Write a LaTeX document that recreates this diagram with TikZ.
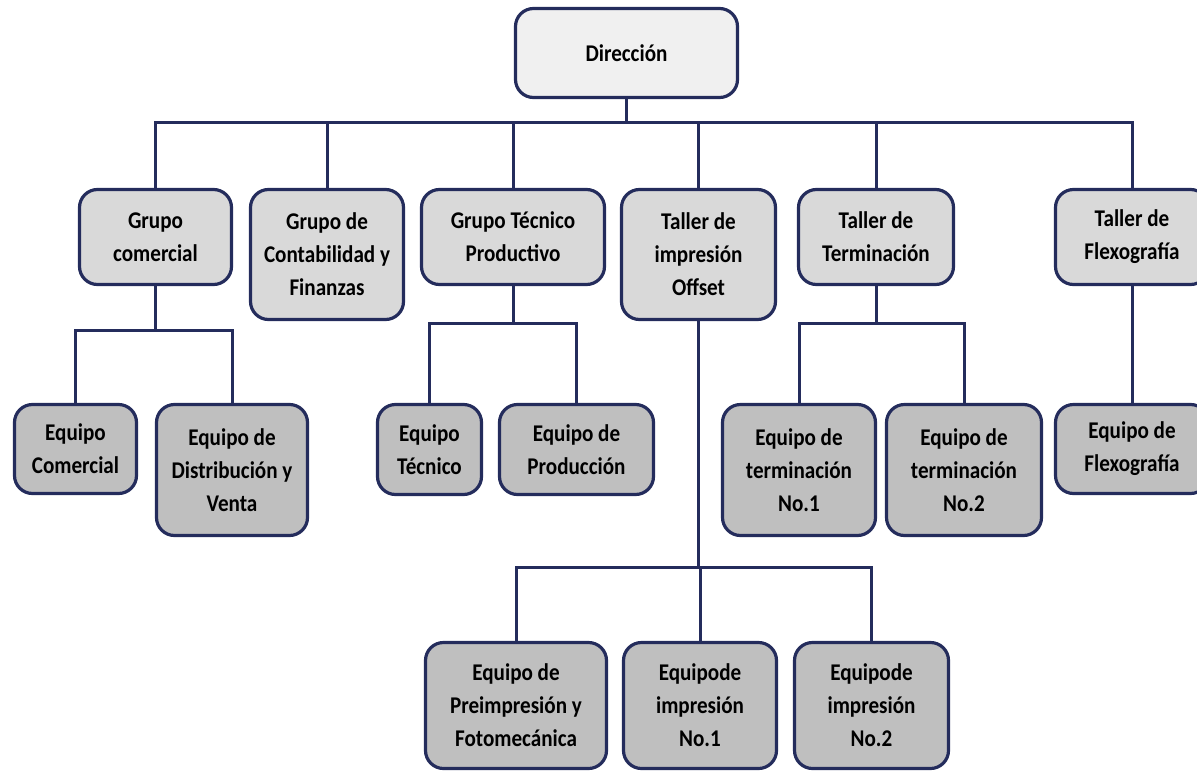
\documentclass[tikz,border=0pt]{standalone}
\usepackage{fontspec}
\setmainfont{Carlito}[FakeStretch=0.88]
\usetikzlibrary{backgrounds}
\definecolor{navy}{RGB}{36,44,92}
\definecolor{topfill}{RGB}{240,240,240}
\definecolor{midfill}{RGB}{217,217,217}
\definecolor{lowfill}{RGB}{191,191,191}
\begin{document}
\begin{tikzpicture}[x=1pt,y=-1pt,
  box/.style={draw=navy, line width=3.2pt, rounded corners=18pt, align=center,
    inner sep=0pt, text=black, font=\fontsize{24}{33}\selectfont\bfseries},
  toplevel/.style={box, fill=topfill},
  group/.style={box, fill=midfill},
  team/.style={box, fill=lowfill},
  conn/.style={draw=navy, line width=3pt, line join=miter}]
\useasboundingbox (0,0) rectangle (1197,774);
\clip (0,0) rectangle (1197,774);

% bus heights
\coordinate (busA) at (0,122);
\coordinate (busB) at (0,330);
\coordinate (busC) at (0,323);
\coordinate (busD) at (0,567);

% head
\node[toplevel, minimum width=222, minimum height=89] (dir) at (626.5,53) {Dirección};

% second level
\node[group, minimum width=152, minimum height=95] (gc) at (155.5,237) {Grupo\\comercial};
\node[group, minimum width=153, minimum height=130] (gcf) at (327,254.5) {Grupo de\\Contabilidad y\\Finanzas};
\node[group, minimum width=183, minimum height=95] (gtp) at (513,237) {Grupo Técnico\\Productivo};
\node[group, minimum width=154, minimum height=130] (too) at (698.5,254.5) {Taller de\\impresión\\Offset};
\node[group, minimum width=155, minimum height=95] (gtt) at (876,237) {Taller de\\Terminación};
\node[group, minimum width=153, minimum height=95] (gtf) at (1132,237) {Taller de\\Flexografía};

% third level
\node[team, minimum width=122, minimum height=89] (ec) at (75.5,449) {Equipo\\Comercial};
\node[team, minimum width=151, minimum height=131] (edv) at (232,470) {Equipo de\\Distribución y\\Venta};
\node[team, minimum width=104, minimum height=90] (et) at (429.5,449.5) {Equipo\\Técnico};
\node[team, minimum width=154, minimum height=90] (ep) at (576.5,449.5) {Equipo de\\Producción};
\node[team, minimum width=153, minimum height=131] (etn1) at (799,470) {Equipo de\\terminación\\No.1};
\node[team, minimum width=155, minimum height=131] (etn2) at (964,470) {Equipo de\\terminación\\No.2};
\node[team, minimum width=153, minimum height=89] (ef) at (1132,449) {Equipo de\\Flexografía};

% fourth level
\node[team, minimum width=181, minimum height=126] (epf) at (516,705.5) {Equipo de\\Preimpresión y\\Fotomecánica};
\node[team, minimum width=153, minimum height=126] (ei1) at (700,705.5) {Equipode\\impresión\\No.1};
\node[team, minimum width=154, minimum height=126] (ei2) at (871.5,705.5) {Equipode\\impresión\\No.2};

\begin{scope}[on background layer]
  \draw[conn] (dir.south) -- (dir.south |- busA);
  \foreach \c in {gc,gcf,gtp,too,gtt,gtf}
    \draw[conn] (dir.south |- busA) -| (\c.north);

  \draw[conn] (gc.south) -- (gc.south |- busB);
  \foreach \c in {ec,edv}
    \draw[conn] (gc.south |- busB) -| (\c.north);

  \draw[conn] (gtp.south) -- (gtp.south |- busC);
  \foreach \c in {et,ep}
    \draw[conn] (gtp.south |- busC) -| (\c.north);

  \draw[conn] (gtt.south) -- (gtt.south |- busC);
  \foreach \c in {etn1,etn2}
    \draw[conn] (gtt.south |- busC) -| (\c.north);

  \draw[conn] (gtf.south) -- (ef.north);

  \draw[conn] (too.south) -- (too.south |- busD);
  \foreach \c in {epf,ei1,ei2}
    \draw[conn] (too.south |- busD) -| (\c.north);
\end{scope}
\end{tikzpicture}
\end{document}
